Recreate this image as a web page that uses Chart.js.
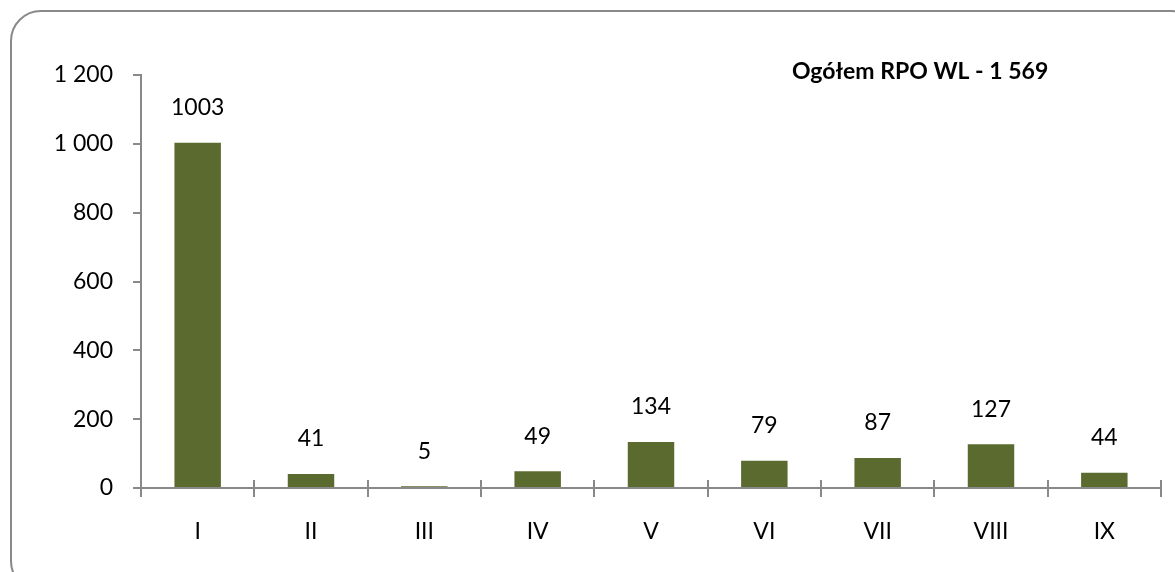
<!DOCTYPE html>
<html lang="pl">
<head>
<meta charset="UTF-8">
<title>Ogółem RPO WL</title>
<script src="https://cdn.jsdelivr.net/npm/chart.js"></script>
<style>
  html, body { margin: 0; padding: 0; background: #fff; }
  #wrap { width: 1175px; height: 572px; position: relative; }
</style>
</head>
<body>
<div id="wrap"><canvas id="wykres"></canvas></div>
<script>
  // dane z wykresu
  var osie = ['I', 'II', 'III', 'IV', 'V', 'VI', 'VII', 'VIII', 'IX'];
  var projekty = [1003, 41, 5, 49, 134, 79, 87, 127, 44];
  var tytul = 'Ogółem RPO WL - 1 569';

  var szary = '#898989';
  var oliwka = '#5b6b30';
  var czcionka = 'Lato, "Open Sans", sans-serif';

  function formatuj(v) {
    return String(v).replace(/\B(?=(\d{3})+(?!\d))/g, ' ');
  }

  // ramka, znaczniki osi X po obu stronach, etykiety wartosci, napis
  var dodatki = {
    id: 'dodatki',
    beforeDraw: function (chart) {
      var ctx = chart.ctx;
      ctx.save();
      ctx.strokeStyle = szary;
      ctx.lineWidth = 2;
      ctx.beginPath();
      ctx.roundRect(11, 11, 1190, 580, 30);
      ctx.stroke();
      ctx.restore();
    },
    afterDraw: function (chart) {
      var ctx = chart.ctx;
      var area = chart.chartArea;
      ctx.save();
      ctx.strokeStyle = szary;
      ctx.lineWidth = 2;
      var krok = (area.right - area.left) / osie.length;
      for (var i = 0; i <= osie.length; i++) {
        var px = Math.round(area.left + i * krok);
        ctx.beginPath();
        ctx.moveTo(px, area.bottom);
        ctx.lineTo(px, area.bottom - 8);
        ctx.stroke();
      }

      ctx.fillStyle = '#000';
      ctx.font = '23px ' + czcionka;
      ctx.textAlign = 'center';
      ctx.textBaseline = 'middle';
      var meta = chart.getDatasetMeta(0);
      meta.data.forEach(function (bar, j) {
        ctx.fillText(String(projekty[j]), bar.x, bar.y - 35);
      });

      ctx.font = 'bold 23px ' + czcionka;
      ctx.textAlign = 'left';
      ctx.fillText(tytul, 792, 72);
      ctx.restore();
    }
  };

  new Chart(document.getElementById('wykres'), {
    type: 'bar',
    data: {
      labels: osie,
      datasets: [{
        data: projekty,
        backgroundColor: oliwka,
        borderWidth: 0,
        barPercentage: 0.82,
        categoryPercentage: 0.5
      }]
    },
    options: {
      responsive: true,
      maintainAspectRatio: false,
      animation: false,
      layout: { padding: { top: 75, right: 14, bottom: 0, left: 0 } },
      plugins: {
        legend: { display: false },
        tooltip: { enabled: false }
      },
      scales: {
        x: {
          afterFit: function (s) { s.height = 84; },
          grid: {
            offset: true,
            drawOnChartArea: false,
            color: szary,
            lineWidth: 2,
            tickLength: 9
          },
          border: { color: szary, width: 2 },
          ticks: {
            color: '#000',
            padding: 21,
            font: { family: czcionka, size: 23 }
          }
        },
        y: {
          min: 0,
          max: 1200,
          afterFit: function (s) { s.width = 141; },
          grid: {
            drawOnChartArea: false,
            color: szary,
            lineWidth: 2,
            tickLength: 8
          },
          border: { color: szary, width: 2 },
          ticks: {
            stepSize: 200,
            color: '#000',
            padding: 20,
            font: { family: czcionka, size: 23 },
            callback: function (v) { return formatuj(v); }
          }
        }
      }
    },
    plugins: [dodatki]
  });
</script>
</body>
</html>
